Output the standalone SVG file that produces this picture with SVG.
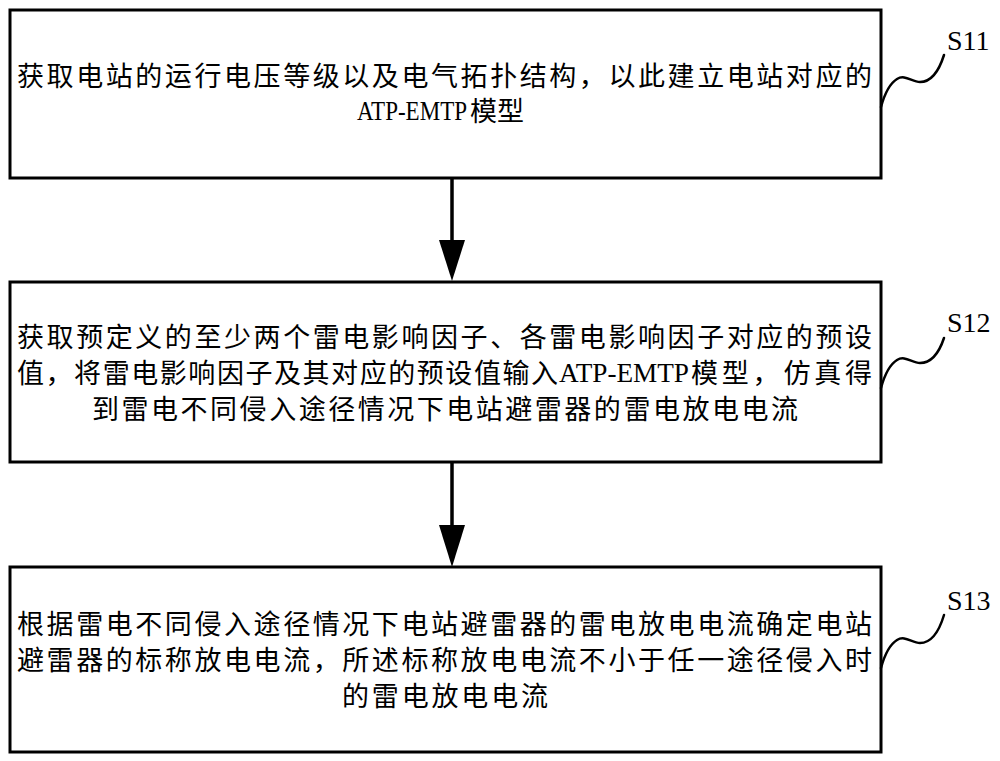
<svg xmlns="http://www.w3.org/2000/svg" width="1000" height="761" viewBox="0 0 1000 761">
<defs>
<style>
.box{fill:#fff;stroke:#000;stroke-width:3}
.t{font-family:"Liberation Serif","Noto Sans CJK SC",serif;font-size:27px;fill:#000}
.lat{font-family:"Liberation Serif",serif;font-size:28px;fill:#000}
.lbl{font-family:"Liberation Serif",serif;font-size:28px;fill:#000}
.sq{fill:none;stroke:#000;stroke-width:2.5;stroke-linecap:round}
.conn{stroke:#000;stroke-width:3.5}
.head{fill:#000}
</style>
</defs>
<rect width="1000" height="761" fill="#fff"/>
<g id="connectors">
<line class="conn" x1="452" y1="178" x2="452" y2="242"/>
<path class="head" d="M439,240 L465,240 L452,281 Z"/>
<line class="conn" x1="452" y1="462" x2="452" y2="527"/>
<path class="head" d="M439,525 L465,525 L452,567 Z"/>
</g>
<g id="s11">
<rect class="box" x="10" y="10" width="871" height="168"/>
<text class="t" x="17" y="86" textLength="855" lengthAdjust="spacing">获取电站的运行电压等级以及电气拓扑结构，以此建立电站对应的</text>
<text class="lat" x="357" y="120" textLength="110" lengthAdjust="spacingAndGlyphs">ATP-EMTP</text>
<text class="t" x="470" y="121">模型</text>
<path class="sq" d="M881,107 C884,96 889,84 897,79 C905,74 912,82 920,82 C930,82 938,74 944,55"/>
<text class="lbl" x="947" y="50">S11</text>
</g>
<g id="s12">
<rect class="box" x="10" y="282" width="871" height="180"/>
<text class="t" x="17" y="347" textLength="855" lengthAdjust="spacing">获取预定义的至少两个雷电影响因子、各雷电影响因子对应的预设</text>
<text class="t" x="17" y="383" textLength="541" lengthAdjust="spacing">值，将雷电影响因子及其对应的预设值输入</text>
<text class="lat" x="559" y="382" textLength="130" lengthAdjust="spacingAndGlyphs">ATP-EMTP</text>
<text class="t" x="691" y="383" textLength="181" lengthAdjust="spacing">模型，仿真得</text>
<text class="t" x="92" y="419" textLength="706" lengthAdjust="spacing">到雷电不同侵入途径情况下电站避雷器的雷电放电电流</text>
<path class="sq" d="M881,388 C884,377 889,365 897,360 C905,355 912,363 920,363 C930,363 938,356 944,338"/>
<text class="lbl" x="947" y="332">S12</text>
</g>
<g id="s13">
<rect class="box" x="10" y="567" width="871" height="185"/>
<text class="t" x="17" y="634" textLength="855" lengthAdjust="spacing">根据雷电不同侵入途径情况下电站避雷器的雷电放电电流确定电站</text>
<text class="t" x="17" y="670" textLength="855" lengthAdjust="spacing">避雷器的标称放电电流，所述标称放电电流不小于任一途径侵入时</text>
<text class="t" x="342" y="706" textLength="206" lengthAdjust="spacing">的雷电放电电流</text>
<path class="sq" d="M881,668 C884,657 889,645 897,640 C905,635 912,643 920,643 C930,643 938,635 944,615"/>
<text class="lbl" x="947" y="610">S13</text>
</g>
</svg>
